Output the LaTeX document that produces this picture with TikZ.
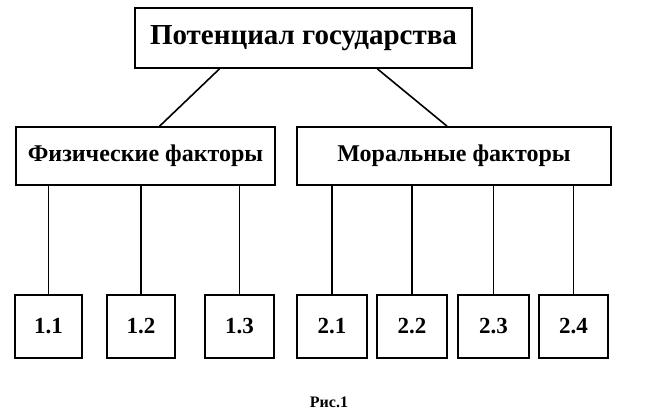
\documentclass[tikz,border=0pt]{standalone}
\usepackage{fontspec}
\setmainfont{Liberation Serif}
\usetikzlibrary{calc}
\tikzset{
  boxbase/.style={draw, line width=1.6pt, inner sep=0pt, font=\bfseries},
  topbox/.style={boxbase, minimum width=337pt, minimum height=60pt, font=\bfseries\fontsize{29}{32}\selectfont},
  midbox/.style={boxbase, minimum height=58pt, font=\bfseries\fontsize{24}{26}\selectfont},
  smallbox/.style={boxbase, minimum height=63pt, font=\bfseries\fontsize{23}{24}\selectfont},
  conn/.style={line width=1.3pt},
  caption/.style={font=\bfseries\fontsize{16}{18}\selectfont}
}
\begin{document}
\begin{tikzpicture}[x=1pt,y=-1pt]
\useasboundingbox[fill=white] (0,0) rectangle (657,415);
\node[topbox] (top) at (303.5,38) {\raisebox{-1pt}{Потенциал государства}};
\node[midbox, minimum width=259pt] (phys) at (145.5,156) {\raisebox{-1pt}{Физические факторы}};
\node[midbox, minimum width=314pt] (moral) at (454,156) {\raisebox{-1pt}{Моральные факторы}};
\node[smallbox, minimum width=67pt] (s11) at (48.5,326.5) {1.1};
\node[smallbox, minimum width=68pt] (s12) at (141,326.5) {1.2};
\node[smallbox, minimum width=69pt] (s13) at (239.5,326.5) {1.3};
\node[smallbox, minimum width=70pt] (s21) at (332,326.5) {2.1};
\node[smallbox, minimum width=70pt] (s22) at (412,326.5) {2.2};
\node[smallbox, minimum width=71pt] (s23) at (493.5,326.5) {2.3};
\node[smallbox, minimum width=69pt] (s24) at (573.5,326.5) {2.4};
\node[caption] (cap) at (329,402) {Рис.1};
\draw[conn, line width=1.6pt] ($(top.south west)!0.252!(top.south east)$) -- ($(phys.north west)!0.554!(phys.north east)$);
\draw[conn, line width=1.6pt] ($(top.south west)!0.718!(top.south east)$) -- ($(moral.north west)!0.478!(moral.north east)$);
\foreach \s in {s11,s12,s13}{
  \draw[conn] (\s.north) -- (\s.north |- phys.south);
}
\foreach \s in {s21,s22,s23,s24}{
  \draw[conn] (\s.north) -- (\s.north |- moral.south);
}
\end{tikzpicture}
\end{document}
